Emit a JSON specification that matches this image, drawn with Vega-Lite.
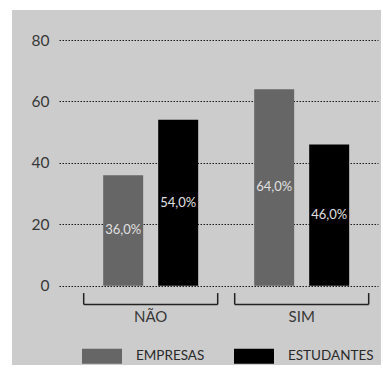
{
  "$schema": "https://vega.github.io/schema/vega-lite/v6.json",
  "width": 369,
  "height": 355,
  "autosize": {"type": "none"},
  "padding": {"left": 12, "top": 10, "right": 2, "bottom": 9},
  "background": "white",
  "config": {
    "view": {"fill": "#cccccc", "stroke": null},
    "font": "Lato",
    "locale": {"number": {"decimal": ",", "thousands": ".", "grouping": [3], "currency": ["R$", ""]}}
  },
  "data": {
    "values": [
      {"resposta": "NÃO", "grupo": "EMPRESAS", "valor": 36},
      {"resposta": "NÃO", "grupo": "ESTUDANTES", "valor": 54},
      {"resposta": "SIM", "grupo": "EMPRESAS", "valor": 64},
      {"resposta": "SIM", "grupo": "ESTUDANTES", "valor": 46}
    ]
  },
  "encoding": {
    "x": {
      "field": "resposta",
      "type": "nominal",
      "sort": ["NÃO", "SIM"],
      "scale": {"range": [47, 366], "paddingInner": 0.1126, "paddingOuter": 0.1126, "align": 0.726},
      "axis": {
        "orient": "bottom",
        "offset": -58,
        "domain": false,
        "ticks": false,
        "grid": false,
        "labelAngle": 0,
        "labelPadding": 2,
        "labelFontSize": 15,
        "labelColor": "#383838",
        "title": null
      }
    }
  },
  "layer": [
    {
      "mark": {"type": "bar"},
      "encoding": {
        "xOffset": {
          "field": "grupo",
          "type": "nominal",
          "scale": {"paddingInner": 0.273, "paddingOuter": 0.3545}
        },
        "y": {
          "field": "valor",
          "type": "quantitative",
          "scale": {"domain": [-25.82, 89.77], "nice": false, "zero": false},
          "axis": {
            "values": [0, 20, 40, 60, 80],
            "offset": -47,
            "domain": false,
            "ticks": false,
            "labelPadding": 10,
            "labelFontSize": 15.5,
            "labelColor": "#383838",
            "grid": true,
            "gridColor": "#1a1a1a",
            "gridDash": [1.5, 1.5],
            "gridWidth": 1,
            "gridOpacity": 1,
            "title": null
          }
        },
        "color": {
          "field": "grupo",
          "type": "nominal",
          "scale": {"domain": ["EMPRESAS", "ESTUDANTES"], "range": ["#666666", "#000000"]},
          "legend": {
            "orient": "none",
            "legendX": 70,
            "legendY": 326,
            "direction": "horizontal",
            "title": null,
            "symbolType": "M-1,-0.375H1V0.375H-1Z",
            "symbolSize": 1600,
            "symbolStrokeWidth": 0,
            "labelFontSize": 13.5,
            "labelOffset": 14,
            "columnPadding": 29,
            "labelColor": "#2a2a2a"
          }
        }
      }
    },
    {
      "transform": [
        {"calculate": "datum.valor / 2", "as": "meio"},
        {"calculate": "replace(format(datum.valor, '.1f'), '.', ',') + '%'", "as": "rotulo"}
      ],
      "mark": {"type": "text", "color": "#e0e0e0", "fontSize": 13, "baseline": "middle"},
      "encoding": {
        "xOffset": {"field": "grupo", "type": "nominal"},
        "y": {"field": "meio", "type": "quantitative"},
        "text": {"field": "rotulo"}
      }
    },
    {
      "data": {"values": [{"resposta": "NÃO"}, {"resposta": "SIM"}]},
      "mark": {"type": "rule", "color": "#222222", "strokeWidth": 1.5},
      "encoding": {
        "x": {"field": "resposta", "type": "nominal", "sort": ["NÃO", "SIM"], "bandPosition": 0},
        "y": {"datum": -2.4},
        "y2": {"datum": -6.1}
      }
    },
    {
      "data": {"values": [{"resposta": "NÃO"}, {"resposta": "SIM"}]},
      "mark": {"type": "rule", "color": "#222222", "strokeWidth": 1.5},
      "encoding": {
        "x": {"field": "resposta", "type": "nominal", "sort": ["NÃO", "SIM"], "bandPosition": 1},
        "y": {"datum": -2.4},
        "y2": {"datum": -6.1}
      }
    },
    {
      "data": {"values": [{"resposta": "NÃO"}, {"resposta": "SIM"}]},
      "mark": {"type": "bar", "fill": null, "stroke": "#222222", "strokeWidth": 1.5},
      "encoding": {
        "y": {"datum": -6.1},
        "y2": {"datum": -6.1}
      }
    }
  ]
}
